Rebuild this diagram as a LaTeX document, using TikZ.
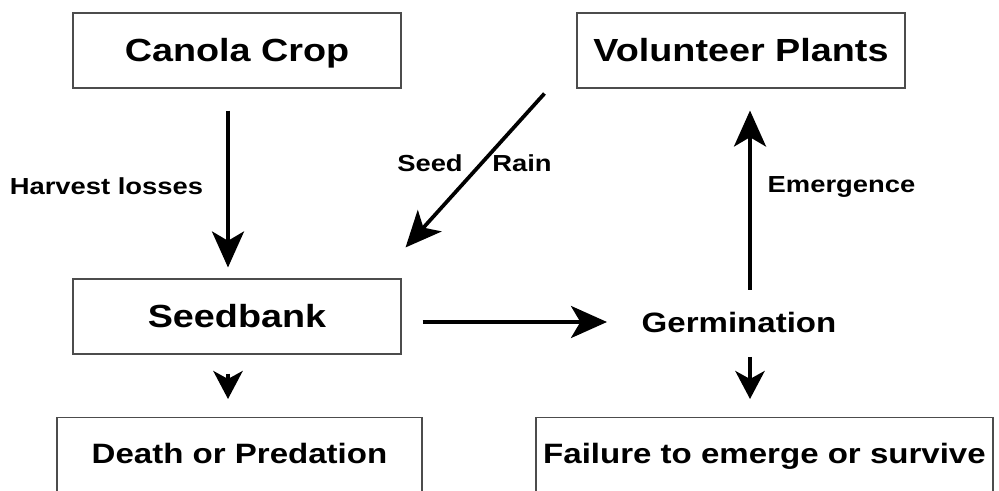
\documentclass[tikz,border=0pt]{standalone}
\usepackage{fontspec}
\setmainfont{Liberation Sans}[FakeStretch=1.18]
\usetikzlibrary{arrows.meta,calc}

\tikzset{
    stagebox/.style={draw=black!70, line width=0.8pt, inner sep=0pt,
        minimum width=246pt, minimum height=56.25pt,
        text height=17.2pt, text depth=0pt,
        font=\bfseries\fontsize{24}{28}\selectfont},
    lossbox/.style={draw=black!70, line width=0.8pt, inner sep=0pt, anchor=north,
        text height=34.5pt, text depth=60pt,
        font=\bfseries\fontsize{21}{25}\selectfont},
    steplabel/.style={inner sep=0pt, text height=12.5pt, text depth=0pt,
        font=\bfseries\fontsize{17.4}{20}\selectfont},
    flow/.style={line width=2.8pt, -{Stealth[length=27pt,width=24pt,inset=7pt]}},
    stubflow/.style={line width=2.8pt, -{Stealth[length=21pt,width=22pt,inset=6pt]}}
}

\begin{document}
\begin{tikzpicture}[x=0.75pt, y=-0.75pt]
            \useasboundingbox (0,0) rectangle (999,491);

            % Kasten oben
            \node[stagebox] (canola) at (237,50.5) {Canola Crop};
            \node[stagebox] (volunteer) at (741,50.5) {Volunteer Plants};

            % Samenbank
            \node[stagebox] (seedbank) at (237,316.5) {Seedbank};
            \node[inner sep=0pt, text height=15pt, text depth=0pt,
                  font=\bfseries\fontsize{21}{25}\selectfont] (germ) at (739,323) {Germination};

            % Verluste unten
            \node[lossbox, minimum width=273.75pt] (death) at (239.5,417) {Death or Predation};
            \node[lossbox, minimum width=342.75pt] (failure) at (764.5,417) {Failure to emerge or survive};

            % Pfeile
            \draw[flow] ($(canola.south)+(-9,22)$) -- ($(seedbank.north)+(-9,-11)$);
            \draw[flow] ($(volunteer.south west)+(-32,5)$) -- ($(seedbank.north east)+(4,-31)$);
            \draw[flow] ($(seedbank.east)+(21,5.5)$) -- ($(germ.center)+(-132,-1)$);
            \draw[flow] ($(germ.center)+(11,-33)$) -- ($(volunteer.south)+(9,22)$);
            \draw[stubflow] ($(germ.center)+(11,34)$) -- ($(failure.north)+(-14.5,-18)$);
            \draw[stubflow] ($(seedbank.south)+(-9,19)$) -- ($(death.north)+(-11.5,-18)$);

            % Beschriftungen
            \node[steplabel] (harvest) at (106.5,186) {Harvest losses};
            \node[steplabel] (seed) at (430,163) {Seed};
            \node[steplabel] (rain) at (522,163) {Rain};
            \node[steplabel] (emergence) at (841.5,184) {Emergence};
        \end{tikzpicture}
\end{document}
